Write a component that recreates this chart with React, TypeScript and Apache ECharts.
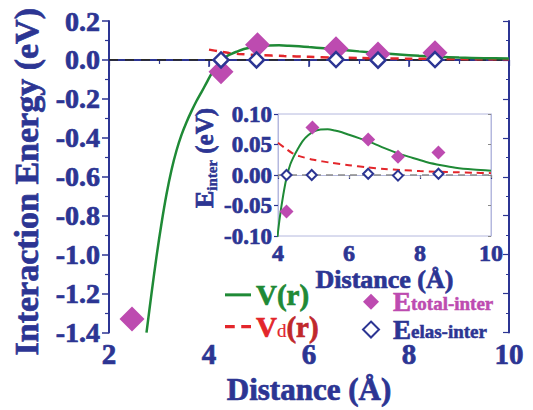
import React, { useEffect, useRef } from "react";
import * as echarts from "echarts";

// V(r) fitted potential (green solid)
const vCurve: [number, number][] = [
  [2.75, -1.4], [2.85, -1.2], [2.95, -1.01], [3.05, -0.84], [3.15, -0.69], [3.25, -0.565],
  [3.35, -0.465], [3.45, -0.385], [3.55, -0.32], [3.65, -0.263], [3.75, -0.211], [3.85, -0.165],
  [3.95, -0.118], [4.05, -0.07], [4.15, -0.032], [4.25, -0.002], [4.35, 0.018], [4.45, 0.031],
  [4.55, 0.042], [4.7, 0.056], [4.85, 0.065], [5.0, 0.071], [5.2, 0.0745], [5.4, 0.075],
  [5.6, 0.073], [5.8, 0.07], [6.0, 0.066], [6.3, 0.06], [6.6, 0.054], [7.0, 0.044],
  [7.4, 0.035], [7.8, 0.028], [8.2, 0.021], [8.6, 0.016], [9.0, 0.012], [9.5, 0.009], [10.0, 0.007],
];
// Vd(r) (red dashed)
const vdCurve: [number, number][] = [
  [4.0, 0.053], [4.2, 0.044], [4.4, 0.036], [4.6, 0.031], [5.0, 0.025], [5.5, 0.02],
  [6.0, 0.016], [6.5, 0.0125], [7.0, 0.01], [7.5, 0.008], [8.0, 0.0065], [8.5, 0.0053],
  [9.0, 0.0045], [9.5, 0.0037], [10.0, 0.003],
];
// E total-inter (filled diamonds)
const totalPts: [number, number][] = [
  [2.46, -1.33], [4.24, -0.06], [4.97, 0.078], [6.54, 0.058], [7.38, 0.03], [8.52, 0.037],
];
// E elas-inter (open diamonds)
const elasPts: [number, number][] = [
  [4.24, 0.0], [4.95, 0.0], [6.54, 0.002], [7.38, -0.001], [8.52, 0.002],
];
const mainZero: [number, number][] = [[2, 0], [10, 0]];
const insetZero: [number, number][] = [[4, 0], [10, 0]];

const NAVY = "#2c3593";
const GREEN = "#1f8a36";
const RED = "#e3262b";
const DARKRED = "#c0282c";
const MAGENTA = "#bd4bb0";
const LAV = "#b4b8de";
const FONT = "Liberation Serif, Times New Roman, serif";

const fmt = (d: number) => (v: number) => (Math.abs(v) < 1e-9 ? 0 : v).toFixed(d);

const txt = (color: string, size: number, bw = 0.7, weight: "bold" | "normal" = "bold") => ({
  color, fontFamily: FONT, fontWeight: weight, fontSize: size,
  textBorderColor: color, textBorderWidth: bw,
});

export default function App() {
  const ref = useRef<HTMLDivElement>(null);
  useEffect(() => {
    if (!ref.current) return;
    const chart = echarts.init(ref.current, undefined, { renderer: "svg" });
    const lbl = (size: number) => txt(NAVY, size);
    chart.setOption({
      animation: false,
      backgroundColor: "#fff",
      grid: [
        { left: 109, top: 21, width: 400, height: 322 },
        { left: 278, top: 114, width: 213, height: 122, show: true, borderColor: LAV, borderWidth: 1, backgroundColor: "#fff", z: 3 },
      ],
      xAxis: [
        {
          gridIndex: 0, type: "value", min: 2, max: 10, interval: 2, position: "bottom",
          axisLine: { lineStyle: { color: NAVY, width: 2 } },
          axisTick: { inside: false, length: 7, lineStyle: { color: NAVY, width: 1.5 } },
          minorTick: { show: true, splitNumber: 2, length: 4, lineStyle: { color: NAVY, width: 1.2 } },
          splitLine: { show: false },
          axisLabel: { ...lbl(29), margin: 9, lineHeight: 24 },
          name: "Distance (Å)", nameLocation: "middle", nameGap: 37,
          nameTextStyle: { ...lbl(31), lineHeight: 28 },
        },
        {
          gridIndex: 0, type: "value", min: 2, max: 10, interval: 2, position: "top",
          axisLine: { lineStyle: { color: NAVY, width: 1.5 } },
          axisTick: { inside: true, length: 6, lineStyle: { color: NAVY, width: 1.2 } },
          minorTick: { show: true, splitNumber: 2, length: 3, lineStyle: { color: NAVY, width: 1 } },
          splitLine: { show: false }, axisLabel: { show: false },
        },
        {
          gridIndex: 1, type: "value", min: 4, max: 10, interval: 2, position: "bottom",
          axisLine: { lineStyle: { color: LAV, width: 1 } },
          axisTick: { inside: false, length: 4, lineStyle: { color: NAVY, width: 1.2 } },
          splitLine: { show: false },
          axisLabel: { ...lbl(24), margin: 5 },
          name: "Distance (Å)", nameLocation: "middle", nameGap: 22,
          nameTextStyle: { ...lbl(26), lineHeight: 22 }, z: 4,
        },
        {
          gridIndex: 1, type: "value", min: 4, max: 10, interval: 2, position: "top",
          axisLine: { lineStyle: { color: LAV, width: 1 } },
          axisTick: { inside: true, length: 3, lineStyle: { color: "#888", width: 1 } },
          splitLine: { show: false }, axisLabel: { show: false }, z: 4,
        },
      ],
      yAxis: [
        {
          gridIndex: 0, type: "value", min: -1.4, max: 0.2, interval: 0.2, position: "left",
          axisLine: { lineStyle: { color: NAVY, width: 2 } },
          axisTick: { inside: false, length: 7, lineStyle: { color: NAVY, width: 1.5 } },
          minorTick: { show: true, splitNumber: 2, length: 4, lineStyle: { color: NAVY, width: 1.2 } },
          splitLine: { show: false },
          axisLabel: { ...lbl(28), margin: 9, formatter: fmt(1) },
          name: "Interaction Energy (eV)", nameLocation: "middle", nameGap: 66, nameRotate: 90,
          nameTextStyle: { ...lbl(34), lineHeight: 34, padding: [0, 10, 0, 0] },
        },
        {
          gridIndex: 0, type: "value", min: -1.4, max: 0.2, interval: 0.2, position: "right",
          axisLine: { lineStyle: { color: NAVY, width: 2 } },
          axisTick: { inside: true, length: 6, lineStyle: { color: NAVY, width: 1.2 } },
          minorTick: { show: true, splitNumber: 2, length: 3, lineStyle: { color: NAVY, width: 1 } },
          splitLine: { show: false }, axisLabel: { show: false },
        },
        {
          gridIndex: 1, type: "value", min: -0.1, max: 0.1, interval: 0.05, position: "left",
          axisLine: { lineStyle: { color: LAV, width: 1 } },
          axisTick: { inside: false, length: 4, lineStyle: { color: NAVY, width: 1.2 } },
          splitLine: { show: false },
          axisLabel: { ...lbl(23), margin: 6, formatter: fmt(2) },
          name: "{e|E}{s|inter}{n| (eV)}", nameLocation: "middle", nameGap: 55, nameRotate: 90,
          nameTextStyle: {
            ...lbl(25), padding: [0, 0, 0, 34],
            rich: {
              e: { ...lbl(26), lineHeight: 30 },
              s: { ...txt(NAVY, 15, 0.4), lineHeight: 13, verticalAlign: "bottom" },
              n: { ...lbl(25), lineHeight: 30 },
            },
          },
          z: 4,
        },
        {
          gridIndex: 1, type: "value", min: -0.1, max: 0.1, interval: 0.05, position: "right",
          axisLine: { lineStyle: { color: LAV, width: 1 } },
          axisTick: { inside: true, length: 3, lineStyle: { color: "#888", width: 1 } },
          splitLine: { show: false }, axisLabel: { show: false }, z: 4,
        },
      ],
      legend: [
        {
          data: [
            { name: "V(r)", icon: "path://M0,0h26v3h-26z" },
            { name: "Vd(r)", icon: "path://M0,0h9v3h-9z M15,0h9v3h-9z" },
          ],
          orient: "vertical", left: 220, top: 275,
          itemWidth: 26, itemHeight: 14, itemGap: 2,
          formatter: (n: string) => (n === "V(r)" ? "{g|V(r)}" : "{r|V}{rs|d}{rd|(r)}"),
          textStyle: {
            rich: {
              g: { ...txt(GREEN, 29), lineHeight: 26 },
              r: { ...txt(RED, 29), lineHeight: 26 },
              rs: { ...txt(RED, 19, 0.2, "normal"), lineHeight: 16, verticalAlign: "bottom" },
              rd: { ...txt(DARKRED, 29), lineHeight: 26 },
            },
          },
        },
        {
          data: [
            { name: "Etotal-inter" },
            { name: "Eelas-inter" },
          ],
          orient: "vertical", left: 357, top: 283,
          itemWidth: 16, itemHeight: 16, itemGap: 0,
          formatter: (n: string) => (n === "Etotal-inter" ? "{pe|E}{ps|total-inter}" : "{be|E}{bs|elas-inter}"),
          textStyle: {
            padding: [0, 0, 0, 9],
            rich: {
              pe: { ...txt(MAGENTA, 27), lineHeight: 23 },
              ps: { ...txt(MAGENTA, 19, 0.5), lineHeight: 16, verticalAlign: "bottom" },
              be: { ...txt(NAVY, 27), lineHeight: 23 },
              bs: { ...txt(NAVY, 19, 0.5), lineHeight: 16, verticalAlign: "bottom" },
            },
          },
        },
      ],
      series: [
        {
          type: "line", name: "zero", xAxisIndex: 0, yAxisIndex: 0, data: mainZero,
          symbol: "none", silent: true, lineStyle: { color: "#2a2a2a", width: 1.8, type: [9, 7] },
        },
        {
          type: "line", name: "Vd(r)", xAxisIndex: 0, yAxisIndex: 0, data: vdCurve,
          symbol: "none", smooth: 0.3, lineStyle: { color: RED, width: 2.5, type: [8, 6] }, itemStyle: { color: RED },
        },
        {
          type: "line", name: "V(r)", xAxisIndex: 0, yAxisIndex: 0, data: vCurve,
          symbol: "none", smooth: 0.3, lineStyle: { color: GREEN, width: 2.5 }, itemStyle: { color: GREEN },
        },
        {
          type: "scatter", name: "Etotal-inter", xAxisIndex: 0, yAxisIndex: 0, data: totalPts,
          symbol: "diamond", symbolSize: 25, itemStyle: { color: MAGENTA, opacity: 1 }, z: 5,
        },
        {
          type: "scatter", name: "Eelas-inter", xAxisIndex: 0, yAxisIndex: 0, data: elasPts,
          symbol: "diamond", symbolSize: 15,
          itemStyle: { color: "#fff", borderColor: NAVY, borderWidth: 2.5, opacity: 1 }, z: 6,
        },
        {
          type: "line", name: "zeroInset", xAxisIndex: 2, yAxisIndex: 2, data: insetZero,
          symbol: "none", silent: true, lineStyle: { color: "#8a8a8a", width: 1.6, type: [7, 5] }, z: 4,
        },
        {
          type: "line", name: "Vd(r)", xAxisIndex: 2, yAxisIndex: 2, data: vdCurve,
          symbol: "none", smooth: 0.3, clip: true, lineStyle: { color: RED, width: 2, type: [7, 5] }, z: 4,
        },
        {
          type: "line", name: "V(r)", xAxisIndex: 2, yAxisIndex: 2, data: vCurve,
          symbol: "none", smooth: 0.3, clip: true, lineStyle: { color: GREEN, width: 2 }, z: 4,
        },
        {
          type: "scatter", name: "Etotal-inter", xAxisIndex: 2, yAxisIndex: 2, data: totalPts,
          symbol: "diamond", symbolSize: 14, clip: true, itemStyle: { color: MAGENTA, opacity: 1 }, z: 7,
        },
        {
          type: "scatter", name: "Eelas-inter", xAxisIndex: 2, yAxisIndex: 2, data: elasPts,
          symbol: "diamond", symbolSize: 10, clip: true,
          itemStyle: { color: "#fff", borderColor: NAVY, borderWidth: 2, opacity: 1 }, z: 8,
        },
      ],
    });
    return () => chart.dispose();
  }, []);
  return <div ref={ref} style={{ width: 533, height: 410, position: "absolute", left: 0, top: 0 }} />;
}
